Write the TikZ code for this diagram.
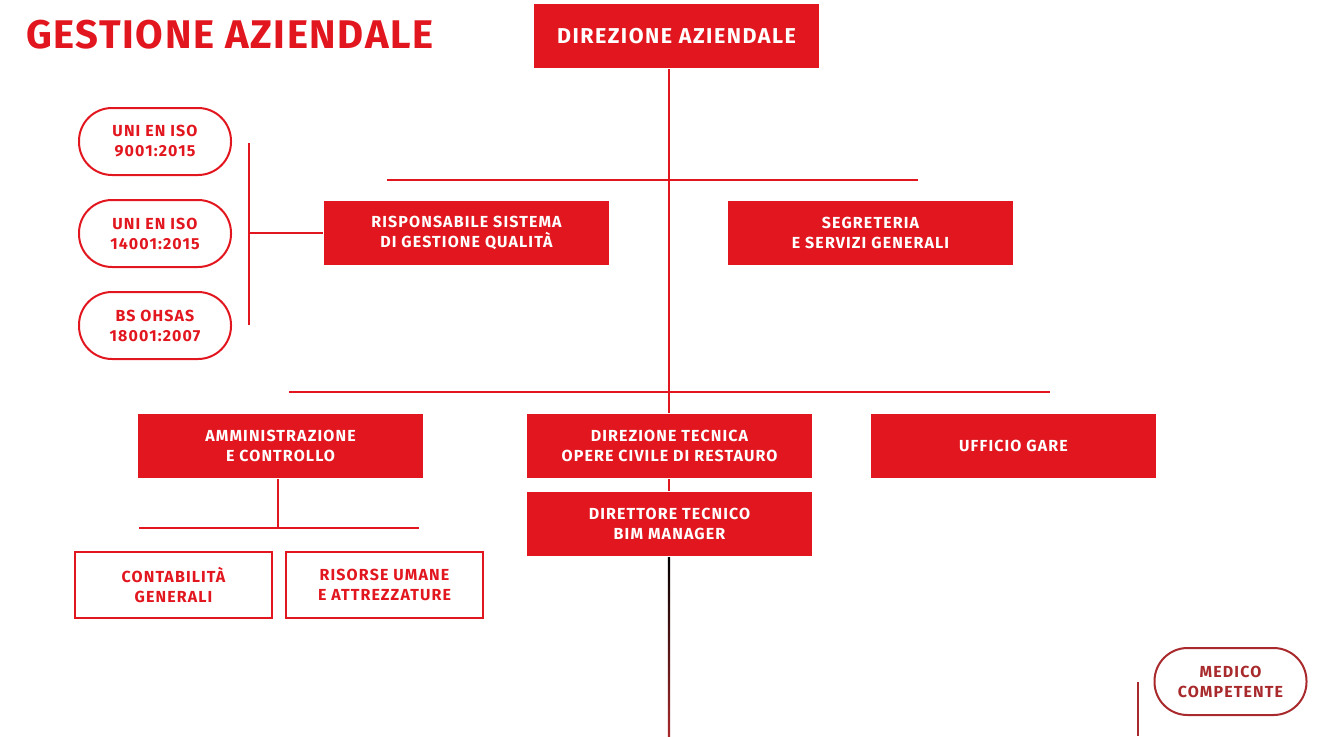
\documentclass[tikz,border=0pt]{standalone}
\usepackage{fontspec}
\setmainfont{Fira Sans}[LetterSpace=7]
\newfontfamily\azhead{Fira Sans}[LetterSpace=4]
\usetikzlibrary{positioning, calc}
\definecolor{azred}{HTML}{E2161E}
\definecolor{azdark}{HTML}{A82A2C}

\begin{document}
\begin{tikzpicture}[x=1pt, y=-1pt,
	line width=2pt,
	redbox/.style={fill=azred, text=white, font=\bfseries\fontsize{16}{20}\selectfont,
		minimum width=285pt, minimum height=64pt, align=center, inner sep=0pt},
	outbox/.style={draw=azred, text=azred, font=\bfseries\fontsize{16}{20}\selectfont,
		minimum width=197pt, minimum height=66pt, align=center, inner sep=0pt},
	pill/.style={draw=azred, text=azred, rounded corners=33pt, font=\bfseries\fontsize{16}{20}\selectfont,
		minimum width=152pt, minimum height=67pt, align=center, inner sep=0pt},
	bus/.style={draw=azred}
	]
	\useasboundingbox (0,0) rectangle (1332,736);
	\node[anchor=base west, text=azred, font=\azhead\bfseries\fontsize{40}{42}\selectfont, inner sep=0pt] (title) at (25,48) {GESTIONE AZIENDALE};
	
	% vertice
	\node[redbox, font=\bfseries\fontsize{21.5}{24}\selectfont] (dir) at (676.5,36) {DIREZIONE AZIENDALE};
	
	% staff
	\node[redbox] (rsgq) at (466.5,233) {RISPONSABILE SISTEMA\\DI GESTIONE QUALITÀ};
	\node[redbox] (seg) at (870.5,233) {SEGRETERIA\\E SERVIZI GENERALI};
	\node[pill] (iso1) at (155,141.5) {UNI EN ISO\\9001:2015};
	\node[pill] (iso2) at (155,233.5) {UNI EN ISO\\14001:2015};
	\node[pill] (bs) at (155,325.5) {BS OHSAS\\18001:2007};
	
	% aree
	\node[redbox] (amm) at (280.5,446) {AMMINISTRAZIONE\\E CONTROLLO};
	\node[redbox] (dt) at (669.5,446) {DIREZIONE TECNICA\\OPERE CIVILE DI RESTAURO};
	\node[redbox] (ug) at (1013.5,446) {UFFICIO GARE};
	\node[redbox, below=12pt of dt] (dtec) {DIRETTORE TECNICO\\BIM MANAGER};
	\node[outbox] (cont) at (173.5,585) {CONTABILITÀ\\GENERALI};
	\node[outbox] (ris) at (384.5,585) {RISORSE UMANE\\E ATTREZZATURE};
	\node[pill, draw=azdark, text=azdark] (med) at (1230.5,681.5) {MEDICO\\COMPETENTE};
	
	% linee
	\coordinate (b1l) at (387,180);
	\coordinate (b1r) at (918,180);
	\coordinate (b2l) at (289,392);
	\coordinate (b2r) at (1050,392);
	\coordinate (b3l) at (139,528);
	\coordinate (b3r) at (419,528);
	\coordinate (brt) at (249,143);
	\coordinate (brb) at (249,325);
	\coordinate (fine) at (669,736);
	\coordinate (medl) at (1138,682);
	\coordinate (medb) at (1138,736);
	\draw[bus] (b1l) -- (b1r);
	\draw[bus] (b2l) -- (b2r);
	\draw[bus] (b3l) -- (b3r);
	\draw[bus] (brt) -- (brb);
	\draw[azred] (dir.south -| fine) -- (dt.north -| fine);
	\draw[azred] (dt.south -| fine) -- (dtec.north -| fine);
	\draw[azred] (brt |- rsgq.west) -- (rsgq.west);
	\draw[azred] (amm.south -| 278,0) -- (b3l -| 278,0);
	\shade[top color=black, bottom color=azdark] ($(dtec.south -| fine)+(-1.2,0)$) rectangle ($(fine)+(1.2,0)$);
	\draw[azdark] (medl) -- (medb);
\end{tikzpicture}
\end{document}
